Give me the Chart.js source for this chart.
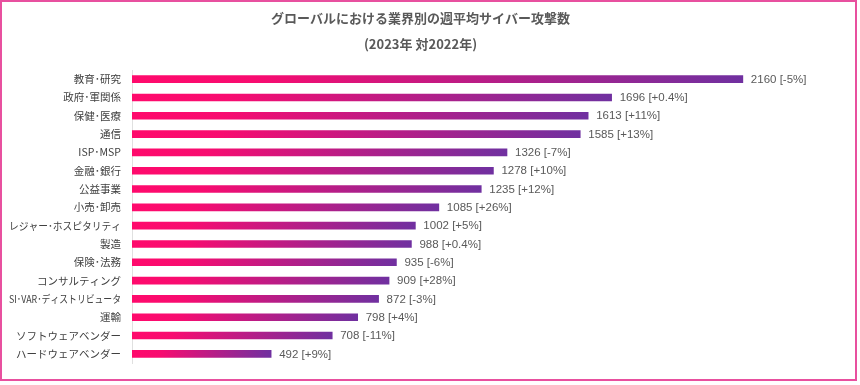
<!DOCTYPE html>
<html lang="ja">
<head>
<meta charset="utf-8">
<script src="https://cdn.jsdelivr.net/npm/chart.js@4.4.1/dist/chart.umd.min.js"></script>
<style>
  html, body { margin: 0; padding: 0; background: #fff; }
  #wrap { position: relative; width: 860px; height: 385px; }
  #frame { position: absolute; left: 0; top: 0; width: 853px; height: 377px; border: 2px solid #e8509f; pointer-events: none; }
  canvas { position: absolute; left: 0; top: 0; }
</style>
</head>
<body>
<div id="wrap">
  <canvas id="chart" width="860" height="385"></canvas>
  <div id="frame"></div>
</div>
<script>
const categories = ['教育･研究', '政府･軍関係', '保健･医療', '通信', 'ISP･MSP', '金融･銀行', '公益事業', '小売･卸売',
  'レジャー･ホスピタリティ', '製造', '保険･法務', 'コンサルティング', 'SI･VAR･ディストリビュータ', '運輸',
  'ソフトウェアベンダー', 'ハードウェアベンダー'];
const attacks = [2160, 1696, 1613, 1585, 1326, 1278, 1235, 1085, 1002, 988, 935, 909, 872, 798, 708, 492];
const changes = ['-5%', '+0.4%', '+11%', '+13%', '-7%', '+10%', '+12%', '+26%', '+5%', '+0.4%', '-6%', '+28%', '-3%', '+4%', '-11%', '+9%'];

// gradient per bar, pink at the base to purple at the tip
function barGradient(ctx) {
  const chart = ctx.chart;
  if (!chart.chartArea || ctx.dataIndex === undefined) return '#ff0a6c';
  const x = chart.scales.x;
  const x0 = x.getPixelForValue(0);
  const x1 = x.getPixelForValue(attacks[ctx.dataIndex]);
  const g = chart.ctx.createLinearGradient(x0, 0, x1, 0);
  g.addColorStop(0, '#ff0a6c');
  g.addColorStop(0.2, '#f80c70');
  g.addColorStop(1, '#7030a0');
  return g;
}

const valueLabels = {
  id: 'valueLabels',
  afterDatasetsDraw(chart) {
    const c = chart.ctx;
    const meta = chart.getDatasetMeta(0);
    c.save();
    c.font = '11.5px "Liberation Sans", "Open Sans", sans-serif';
    c.fillStyle = '#595959';
    c.textAlign = 'left';
    c.textBaseline = 'middle';
    meta.data.forEach((bar, i) => {
      c.fillText(attacks[i] + ' [' + changes[i] + ']', bar.x + 8, bar.y + 0.5);
    });
    c.restore();
  }
};

new Chart(document.getElementById('chart'), {
  type: 'bar',
  data: {
    labels: categories,
    datasets: [{ data: attacks, backgroundColor: barGradient, barThickness: 7, borderWidth: 0 }],
  },
  options: {
    indexAxis: 'y',
    responsive: false,
    animation: false,
    layout: { padding: { left: 2, right: 21, bottom: 22 } },
    plugins: {
      legend: { display: false },
      tooltip: { enabled: false },
      title: {
        display: true,
        text: ['グローバルにおける業界別の週平均サイバー攻撃数', '(2023年 対2022年)'],
        color: '#595959',
        font: { family: '"Noto Sans CJK JP", sans-serif', size: 13, weight: 'bold', lineHeight: 2 },
        padding: { top: 5, bottom: 13 },
      },
    },
    scales: {
      x: { display: false, min: 0, max: 2500 },
      y: {
        afterFit(s) { s.width = 130; },
        // squeeze the long katakana labels into the space the original gives them
        afterUpdate(s) {
          if (s._squeezed) return;
          const orig = s.getLabelItems.bind(s);
          s.getLabelItems = (area) => {
            const items = orig(area);
            items.forEach(it => { it.options.maxWidth = 112; });
            return items;
          };
          s._squeezed = true;
        },
        grid: { display: false, drawTicks: false },
        border: { display: true, color: '#e0e0e0', width: 1 },
        ticks: {
          padding: 11,
          color: '#404040',
          font: { family: '"Noto Sans CJK JP", sans-serif', size: 10.5 },
        },
      },
    },
  },
  plugins: [valueLabels],
});
</script>
</body>
</html>
